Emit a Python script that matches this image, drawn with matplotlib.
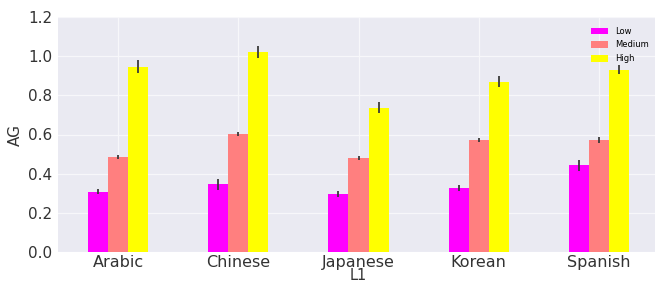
import matplotlib
matplotlib.use("Agg")
import matplotlib.pyplot as plt
import numpy as np

categories = ["Arabic", "Chinese", "Japanese", "Korean", "Spanish"]
series_names = ["Low", "Medium", "High"]
low = [0.308, 0.346, 0.298, 0.327, 0.443]
medium = [0.485, 0.603, 0.482, 0.570, 0.571]
high = [0.946, 1.023, 0.737, 0.870, 0.931]
low_err = [0.014, 0.028, 0.015, 0.015, 0.027]
medium_err = [0.010, 0.010, 0.010, 0.010, 0.014]
high_err = [0.034, 0.030, 0.027, 0.029, 0.022]
colors = ["#FF00FF", "#FF7F7F", "#FFFF00"]

fig = plt.figure(figsize=(6.55, 2.84), dpi=100)
ax = fig.add_axes([58/655, 32/284, (659-58)/655, (252-17)/284])
ax.set_facecolor("#EAEAF2")
for s in ax.spines.values():
    s.set_visible(False)

x = np.arange(len(categories))
w = 0.5 / 3
data = [low, medium, high]
errs = [low_err, medium_err, high_err]
for i, (vals, e, c, n) in enumerate(zip(data, errs, colors, series_names)):
    ax.bar(x + (i - 1) * w, vals, width=w, color=c, label=n, zorder=2,
           yerr=e, error_kw=dict(ecolor="#3a3a3a", elinewidth=1.3, capsize=0, zorder=3))

ax.set_xlim(-0.5, 4.5)
ax.set_ylim(0, 1.2)
ax.set_yticks(np.arange(0, 1.21, 0.2))
ax.set_yticklabels([f"{v:.1f}" for v in np.arange(0, 1.21, 0.2)])
ax.set_xticks(x)
ax.set_xticklabels(categories)
ax.grid(True, color="#F7F7FA", linewidth=0.9, zorder=0)
ax.set_axisbelow(True)
ax.tick_params(axis="y", length=0, labelsize=11, colors="#333333", pad=4)
ax.tick_params(axis="x", length=0, labelsize=11.5, colors="#333333", pad=2)
ax.set_ylabel("AG", fontsize=11, color="#333333", labelpad=4)
ax.set_xlabel("L1", fontsize=10.5, color="#333333", labelpad=-1)
leg = ax.legend(loc="upper right", bbox_to_anchor=(0.995, 0.99), fontsize=6, frameon=False,
                handlelength=2.0, handleheight=0.9, labelspacing=0.55)

fig.savefig("out.png", dpi=100)
